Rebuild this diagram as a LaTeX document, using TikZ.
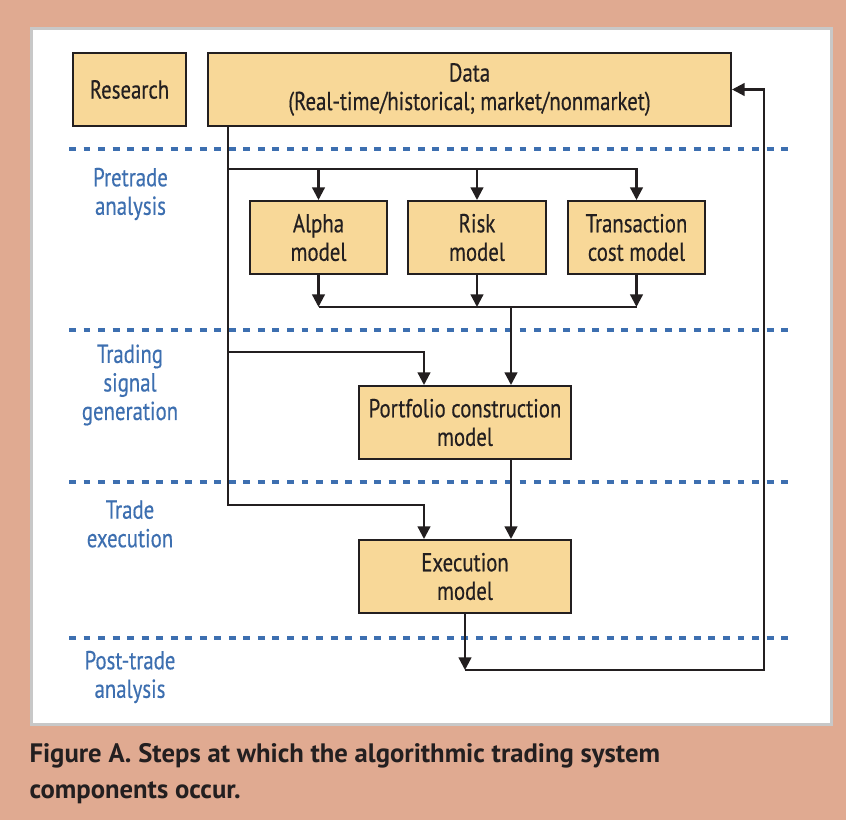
\documentclass[tikz,border=0pt]{standalone}
\usepackage{fontspec}
\setmainfont{PT Sans}[FakeStretch=0.8, FakeBold=0.4]
\newfontfamily\capfont{PT Sans}
\usetikzlibrary{arrows.meta}
\definecolor{pagebg}{RGB}{224,170,145}
\definecolor{boxfill}{RGB}{248,216,152}
\definecolor{stageblue}{RGB}{61,111,176}
\definecolor{inkdark}{RGB}{35,31,32}
\definecolor{panelrim}{RGB}{200,200,200}

\tikzset{every picture/.style={line width=0.75pt}}
\tikzset{
  modelbox/.style={draw=inkdark, fill=boxfill, line width=1.5pt, align=center, inner sep=0.75pt, text=inkdark, font=\fontsize{19.5}{21.4}\selectfont},
  stagetext/.style={text=stageblue, align=center, inner sep=0.75pt, font=\fontsize{19.5}{21.4}\selectfont},
  flow/.style={draw=inkdark, line width=1.7pt},
  flowarr/.style={flow, -{Triangle[length=9.5pt,width=9.5pt]}},
  stageline/.style={draw=stageblue, line width=3pt, dash pattern=on 5.2pt off 5.7pt},
}

\begin{document}
\begin{tikzpicture}[x=0.75pt,y=0.75pt,yscale=-1,xscale=1]
\useasboundingbox (0,0) rectangle (846,820);
\fill[pagebg] (0,0) rectangle (846,820);
\draw[panelrim, line width=2.25pt, fill=white] (31.5,28.5) rectangle (831.5,724.5);

% Stage Lines
\foreach \y in {149,330,482,638}
  \draw[stageline] (69,\y) -- (790,\y);

% Text Node
\node[modelbox, minimum width=84.75pt, minimum height=54.75pt] (research) at (129.5,89.5) {Research};
% Text Node
\node[modelbox, minimum width=392.25pt, minimum height=54.75pt] (data) at (469.5,89.5) {Data\\(Real-time/historical; market/nonmarket)};
% Text Node
\node[modelbox, minimum width=102.75pt, minimum height=54.75pt] (alpha) at (318.5,237.5) {Alpha\\model};
% Text Node
\node[modelbox, minimum width=103.5pt, minimum height=54.75pt] (risk) at (477,237.5) {Risk\\model};
% Text Node
\node[modelbox, minimum width=102.75pt, minimum height=54.75pt] (tcost) at (636.5,237.5) {Transaction\\cost model};
% Text Node
\node[modelbox, minimum width=159pt, minimum height=54.75pt] (portfolio) at (465,422.5) {Portfolio construction\\model};
% Text Node
\node[modelbox, minimum width=159pt, minimum height=54.75pt] (execution) at (465,576.5) {Execution\\model};

% Text Node
\node[stagetext] (pretrade) at (130.5,194) {Pretrade\\analysis};
% Text Node
\node[stagetext] (signal) at (130,385) {Trading\\signal\\generation};
% Text Node
\node[stagetext] (tradeexec) at (130,524) {Trade\\execution};
% Text Node
\node[stagetext] (posttrade) at (130,677) {Post-trade\\analysis};

% Text Node
\node[anchor=north west, inner sep=0pt, align=left, text=inkdark, font=\capfont\bfseries\fontsize{20}{27}\selectfont] (caption) at (29,743) {Figure A. Steps at which the algorithmic trading system\\components occur.};

\coordinate (tap1) at (228,169);
\coordinate (tap2) at (228,352);
\coordinate (tap3) at (228,505);
\coordinate (merge) at (511,307);
\coordinate (sidein) at (424,0);
\coordinate (ret) at (764,670);

% Connection
\draw[flowarr] (data.south -| tap3) -- (tap3) -| (execution.north -| sidein);
% Connection
\draw[flowarr] (tap1) -| (tcost.north);
\draw[flowarr] (tap1 -| alpha.north) -- (alpha.north);
\draw[flowarr] (tap1 -| risk.north) -- (risk.north);
% Connection
\foreach \m in {alpha,risk,tcost}
  \draw[flowarr] (\m.south) -- (\m.south |- merge);
\draw[flow] (merge -| alpha.south) -- (merge -| tcost.south);
\draw[flowarr] (merge) -- (portfolio.north -| merge);
% Connection
\draw[flowarr] (tap2) -| (portfolio.north -| sidein);
% Connection
\draw[flowarr] (portfolio.south -| merge) -- (execution.north -| merge);
% Connection
\draw[flowarr] (execution.south) -- (execution.south |- ret);
\draw[flowarr] (execution.south |- ret) -| (data.east -| ret) -- (data.east);

\end{tikzpicture}
\end{document}
